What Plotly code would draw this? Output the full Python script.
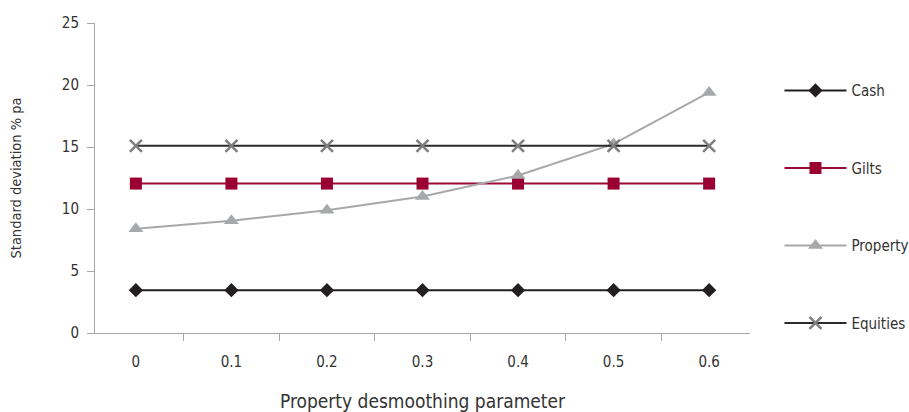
import plotly.graph_objects as go

categories = ["0", "0.1", "0.2", "0.3", "0.4", "0.5", "0.6"]
cash = [3.45, 3.45, 3.45, 3.45, 3.45, 3.45, 3.45]
gilts = [12.05, 12.05, 12.05, 12.05, 12.05, 12.05, 12.05]
property_sd = [8.4, 9.05, 9.9, 11.0, 12.7, 15.25, 19.4]
equities = [15.1, 15.1, 15.1, 15.1, 15.1, 15.1, 15.1]

font_family = "Liberation Sans Narrow, DejaVu Sans Condensed, Open Sans"

fig = go.Figure()
fig.add_trace(go.Scatter(x=categories, y=cash, name="Cash", mode="lines+markers",
                         line=dict(color="#231f20", width=2),
                         marker=dict(symbol="diamond", size=11, color="#231f20"),
                         legendgroup="a"))
fig.add_trace(go.Scatter(x=categories, y=gilts, name="Gilts", mode="lines+markers",
                         line=dict(color="#9b0b34", width=2),
                         marker=dict(symbol="square", size=12, color="#9b0033"),
                         legendgroup="b"))
fig.add_trace(go.Scatter(x=categories, y=property_sd, name="Property", mode="lines+markers",
                         line=dict(color="#a7a8aa", width=2),
                         marker=dict(symbol="triangle-up", size=13, color="#a7a8aa"),
                         legendgroup="c"))
fig.add_trace(go.Scatter(x=categories, y=equities, name="Equities", mode="lines+markers",
                         line=dict(color="#2b2b2b", width=2),
                         marker=dict(symbol="x-thin", size=12, color="#7f7f7f",
                                     line=dict(color="#7f7f7f", width=2.5)),
                         legendgroup="d"))

fig.update_layout(
    width=909, height=412,
    margin=dict(l=95, r=159, t=23, b=79, autoexpand=False),
    paper_bgcolor="white", plot_bgcolor="white",
    font=dict(family=font_family, size=14, color="#333333"),
    legend=dict(x=1.045, xanchor="left", y=0.835, yanchor="top",
                tracegroupgap=55, traceorder="grouped",
                font=dict(size=15, color="#333333"), itemwidth=62),
    showlegend=True,
)
fig.update_xaxes(
    type="category", showline=True, linecolor="#a6a6a6", linewidth=1,
    ticks="outside", tickson="boundaries", ticklen=7, tickcolor="#a6a6a6",
    showgrid=False, zeroline=False, ticklabelstandoff=15, automargin=False,
    title=dict(text="Property desmoothing parameter", standoff=25,
               font=dict(size=19)),
    tickfont=dict(size=15),
)
fig.update_yaxes(
    range=[0, 25], dtick=5, showline=True, linecolor="#a6a6a6", linewidth=1,
    ticks="outside", ticklen=7, tickcolor="#a6a6a6", automargin=False,
    showgrid=False, zeroline=False, ticklabelstandoff=5,
    title=dict(text="Standard deviation % pa", standoff=36, font=dict(size=14.5)),
    tickfont=dict(size=15),
)

fig.write_html("out.html", config={"displayModeBar": False},
               post_script="document.body.style.margin='0';")
